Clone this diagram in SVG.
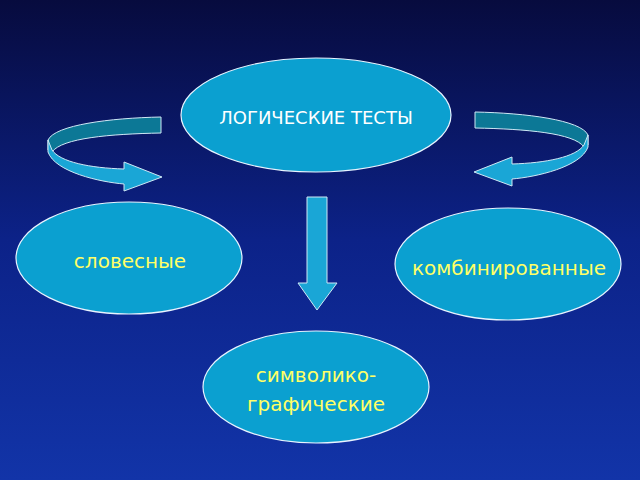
<svg xmlns="http://www.w3.org/2000/svg" width="640" height="480" viewBox="0 0 640 480">
<defs>
<linearGradient id="bg" x1="0" y1="0" x2="0" y2="1"><stop offset="0" stop-color="#070b3e"/><stop offset="0.5" stop-color="#0c2288"/><stop offset="1" stop-color="#1234a8"/></linearGradient>
<style>
.n{fill:#0ba0d0;stroke:#e8f4ff;stroke-width:1.2}
.back{fill:#0c7896;stroke:#cfe8f5;stroke-width:1}
.front{fill:#1aa6d6;stroke:#cfe8f5;stroke-width:1}
.y{font-family:"DejaVu Sans",sans-serif;font-size:20px;fill:#ffff66;text-anchor:middle}
.w{font-family:"DejaVu Sans",sans-serif;font-size:18px;fill:#ffffff;text-anchor:middle}
</style>
<g id="curl">
<path class="back" d="M161,117 L161,133 C110,134 62,138 52,152 L48,150 L48,140 C55,125 110,118 161,117 Z"/>
<path class="front" d="M48,140 L48,152 C55,172 100,182 124,184 L124,191 L162,177 L124,162 L124,169 C90,168 60,162 52,150 Z"/>
</g>
</defs>
<rect width="640" height="480" fill="url(#bg)"/>
<g id="connectors">
<use href="#curl"/>
<use href="#curl" transform="translate(636,-5) scale(-1,1)"/>
<path class="front" d="M307,197 L327,197 L327,283 L337,283 L317,310 L298,283 L307,283 Z"/>
</g>
<g id="top"><ellipse class="n" cx="316" cy="115" rx="135" ry="57"/><text class="w" x="316" y="124">ЛОГИЧЕСКИЕ ТЕСТЫ</text></g>
<g id="left"><ellipse class="n" cx="129" cy="258" rx="113" ry="56"/><text class="y" x="130" y="268">словесные</text></g>
<g id="right"><ellipse class="n" cx="508" cy="264" rx="113" ry="56"/><text class="y" x="509" y="275">комбинированные</text></g>
<g id="bottom"><ellipse class="n" cx="316" cy="387" rx="113" ry="56"/><text class="y" x="316" y="382">символико-</text><text class="y" x="316" y="411">графические</text></g>
</svg>
